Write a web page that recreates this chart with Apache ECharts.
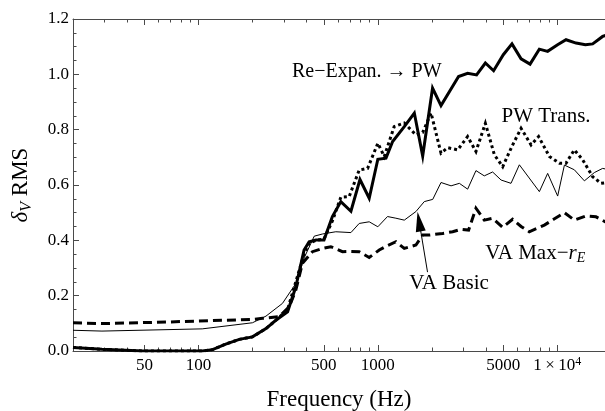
<!DOCTYPE html>
<html><head><meta charset="utf-8">
<script src="https://cdn.jsdelivr.net/npm/echarts@6/dist/echarts.min.js"></script>
<style>html,body{margin:0;padding:0;background:#fff}#c{width:605px;height:411px}</style>
</head><body><div id="c"></div>
<script>
// ---- data (frequency in Hz, value = delta_V RMS) ----
const reFreq = [20,29,49,80,105,120,142,169,200,238,270,314,349,388,414,452,501,558,622,708,795,895,1000,1110,1209,1404,1597,1778,2018,2249,2818,3165,3550,3974,4418,5003,5592,6284,7052,7943,8837,10040,11190,12730,14350,15750,17900,19500];
const reVal  = [0.013,0.006,0.0,0.0,0.0,0.005,0.025,0.042,0.051,0.081,0.111,0.142,0.232,0.365,0.395,0.401,0.401,0.486,0.54,0.505,0.62,0.552,0.693,0.697,0.757,0.811,0.86,0.705,0.95,0.887,0.992,1.004,0.998,1.041,1.013,1.071,1.11,1.056,1.037,1.091,1.083,1.107,1.125,1.113,1.107,1.11,1.137,1.145];

const ptFreq = [20,29,49,80,105,120,142,169,200,238,270,314,349,388,414,452,501,558,622,692,787,877,1000,1086,1233,1404,1630,1778,1980,2249,2449,2786,3165,3522,3974,4462,4966,5592,6284,7145,7870,9040,10280,11190,12450,13860,15750,17540,19500];
const ptVal  = [0.013,0.006,0.0,0.0,0.0,0.005,0.025,0.042,0.051,0.081,0.111,0.15,0.25,0.35,0.39,0.40,0.405,0.47,0.556,0.558,0.654,0.66,0.751,0.703,0.811,0.824,0.781,0.79,0.86,0.715,0.735,0.727,0.775,0.721,0.823,0.709,0.666,0.74,0.805,0.745,0.775,0.703,0.679,0.679,0.727,0.691,0.63,0.606,0.61];

const vmFreq = [20,29,69,120,200,228,282,321,349,380,432,492,547,635,700,787,895,1018,1122,1262,1404,1630,1778,1936,2297,2612,2906,3206,3522,3920,4362,4963,5637,6284,6980,8470,9500,10960,12450,14480,16440,18500,19500];
const vmVal  = [0.102,0.099,0.105,0.11,0.114,0.118,0.124,0.16,0.22,0.317,0.359,0.371,0.377,0.359,0.36,0.359,0.338,0.365,0.38,0.395,0.371,0.383,0.419,0.419,0.425,0.431,0.44,0.437,0.516,0.473,0.48,0.447,0.476,0.45,0.431,0.455,0.475,0.50,0.473,0.488,0.485,0.467,0.465];

const vbFreq = [20,29,105,200,238,294,349,390,442,492,583,708,787,895,1000,1132,1260,1404,1630,1815,2023,2249,2559,2847,3165,3522,3920,4362,4862,5523,6148,7947,8840,10050,10960,12450,14160,16100,17900,19500];
const vbVal  = [0.075,0.072,0.08,0.102,0.126,0.172,0.244,0.339,0.415,0.423,0.431,0.428,0.461,0.467,0.449,0.486,0.48,0.473,0.504,0.54,0.548,0.609,0.597,0.606,0.585,0.652,0.633,0.647,0.618,0.606,0.673,0.576,0.642,0.560,0.672,0.655,0.615,0.645,0.66,0.655];

// ---- axes ticks / labels ----
const xMajorTicks = [50,100,500,1000,5000,10000];
const xMinorTicks = [30,40,60,70,80,90,200,300,400,600,700,800,900,2000,3000,4000,6000,7000,8000,9000];
const yLabels = ['0.0','0.2','0.4','0.6','0.8','1.0','1.2'];
const xMin = 20, xMax = 18450;

// ---- annotations (data coordinates) ----
const notes = [
  {coord:[867,1.009], text:'Re\u2212Expan. \u2192 PW', size:20},
  {coord:[8660,0.847], text:'PW Trans.', size:21},
  {coord:[7540,0.352], text:'{a|VA Max\u2212}{i|r}{s|E}', size:21},
  {coord:[2495,0.244], text:'VA Basic', size:21}
];
const arrowFrom = [1892,0.285];
const arrowTo = [1699,0.468];

const FONT = 'Liberation Serif';
const FRAME = '#4a4a4a';

const chart = echarts.init(document.getElementById('c'), null, {renderer:'canvas'});

function xAxisDef(pos, ticks, len, showLine, showLabels){
  return {
    type:'log', logBase:10, min:xMin, max:xMax, position:pos, gridIndex:0,
    splitLine:{show:false},
    axisLine:{show:showLine, lineStyle:{color:FRAME, width:1}},
    axisTick:{show:true, inside:true, length:len, customValues:ticks, lineStyle:{color:FRAME, width:1}},
    axisLabel:{show:showLabels, customValues:xMajorTicks, margin:5, color:'#000', fontFamily:FONT, fontSize:17,
      formatter:function(v){ return Math.round(v)===10000 ? '{n|1\u2009\u00d7\u200910}{s|4}' : '{n|'+Math.round(v)+'}'; },
      rich:{n:{fontFamily:FONT, fontSize:17, lineHeight:20, color:'#000'},
            s:{fontFamily:FONT, fontSize:12, lineHeight:12, verticalAlign:'top', color:'#000'}}}
  };
}

function lineSeries(name, fr, vals, width, dash, z){
  return {
    type:'line', name:name, xAxisIndex:0, yAxisIndex:0, z:z,
    data: fr.map((f,i)=>[f, vals[i]]),
    symbol:'none', showSymbol:false, animation:false, silent:true,
    lineStyle:{color:'#000', width:width, type:dash, join:'miter', miterLimit:6, cap:'butt'}
  };
}

const s1 = lineSeries('Re-Expan. -> PW', reFreq, reVal, 3, 'solid', 4);
const s2 = lineSeries('PW Trans.', ptFreq, ptVal, 3, [3,3], 3);
const s3 = lineSeries('VA Max-rE', vmFreq, vmVal, 3, [9,5], 2);
const s4 = lineSeries('VA Basic', vbFreq, vbVal, 1, 'solid', 5);

function richFor(sz){
  return {a:{fontFamily:FONT, fontSize:sz, lineHeight:24, color:'#000'},
          i:{fontFamily:FONT, fontSize:sz, lineHeight:24, fontStyle:'italic', color:'#000'},
          s:{fontFamily:FONT, fontSize:14, lineHeight:10, fontStyle:'italic', verticalAlign:'bottom', color:'#000'}};
}
s1.markPoint = {
  silent:true, animation:false, symbol:'circle', symbolSize:0,
  itemStyle:{color:'rgba(0,0,0,0)'},
  label:{show:true, position:'inside', color:'#000', fontFamily:FONT, fontSize:20},
  data: notes.map(n=>({coord:n.coord, value:0,
    label:{formatter:n.text, fontSize:n.size, rich:richFor(n.size)}}))
};
s4.markLine = {
  silent:true, animation:false, symbol:['none','triangle'],
  label:{show:false},
  lineStyle:{color:'#000', width:1, type:'solid'},
  data:[[{coord:arrowFrom, symbol:'none'},{coord:arrowTo, symbol:'triangle', symbolSize:[10,20], itemStyle:{color:'#000'}}]]
};

chart.setOption({
  animation:false,
  backgroundColor:'#fff',
  grid:{left:73, top:19, bottom:60, right:0, containLabel:false, outerBoundsMode:'none'},
  xAxis:[
    Object.assign(xAxisDef('bottom', xMajorTicks, 6, true, true), {
      name:'Frequency (Hz)', nameLocation:'middle', nameGap:49,
      nameTextStyle:{fontFamily:FONT, fontSize:23, color:'#000', verticalAlign:'middle', align:'center'}}),
    xAxisDef('bottom', xMinorTicks, 3.5, false, false),
    xAxisDef('top', xMajorTicks, 6, true, false),
    xAxisDef('top', xMinorTicks, 3.5, false, false)
  ],
  yAxis:[{
    type:'value', min:0, max:1.2, interval:0.2, position:'left',
    name:'{d|\u03b4}{s|V}{n| RMS}', nameLocation:'middle', nameGap:52, nameRotate:90,
    nameTextStyle:{verticalAlign:'middle', align:'center',
      rich:{d:{fontFamily:FONT, fontSize:23, lineHeight:28, fontStyle:'italic', color:'#000'},
            s:{fontFamily:FONT, fontSize:16, lineHeight:12, fontStyle:'italic', verticalAlign:'bottom', color:'#000'},
            n:{fontFamily:FONT, fontSize:23, lineHeight:28, color:'#000'}}},
    splitLine:{show:false},
    axisLine:{show:true, lineStyle:{color:FRAME, width:1}},
    axisTick:{show:true, inside:true, length:6, lineStyle:{color:FRAME, width:1}},
    minorTick:{show:true, splitNumber:4, length:3.5, lineStyle:{color:FRAME, width:1}},
    axisLabel:{margin:4, color:'#000', fontFamily:FONT, fontSize:17,
      formatter:function(v, i){ return yLabels[Math.round(v/0.2)]; }}
  }],
  series:[s3, s2, s1, s4]
});
</script></body></html>
